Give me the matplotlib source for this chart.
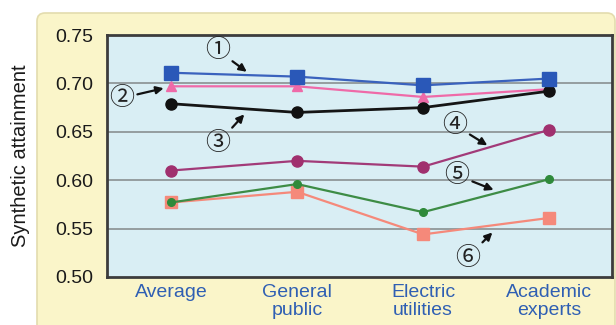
import numpy as np
import matplotlib
matplotlib.use("Agg")
import matplotlib.pyplot as plt
from matplotlib.patches import FancyBboxPatch

plt.rcParams['font.family'] = ['Liberation Sans', 'DejaVu Sans', 'Noto Sans CJK JP']

categories = ['Average', 'General\npublic', 'Electric\nutilities', 'Academic\nexperts']
s1 = [0.711, 0.707, 0.698, 0.705]   # blue squares
s2 = [0.697, 0.697, 0.686, 0.694]   # pink triangles
s3 = [0.679, 0.670, 0.675, 0.692]   # black circles
s4 = [0.610, 0.620, 0.614, 0.652]   # purple circles
s5 = [0.577, 0.596, 0.567, 0.601]   # green dots
s6 = [0.577, 0.588, 0.544, 0.561]   # salmon squares
yticks = [0.50, 0.55, 0.60, 0.65, 0.70, 0.75]
labels = ['\u2460', '\u2461', '\u2462', '\u2463', '\u2464', '\u2465']

fig = plt.figure(figsize=(6.16, 3.25), dpi=100)
fig.patch.set_facecolor('white')

# yellow rounded panel behind the chart
panel = FancyBboxPatch((0.40, -0.2), 5.72, 3.29,
                       boxstyle='round,pad=0.03,rounding_size=0.08',
                       transform=fig.dpi_scale_trans,
                       facecolor='#faf5c9', edgecolor='#e3dcae', linewidth=1.2,
                       zorder=-10)
fig.patches.append(panel)

ax = fig.add_axes([0.1737, 0.1477, 0.8198, 0.7446])
ax.set_facecolor('#d9eef4')
x = np.arange(len(categories))

ax.plot(x, s1, color='#3a62bd', lw=1.6, marker='s', ms=10, mfc='#2a58b8', mec='#2a58b8', zorder=5)
ax.plot(x, s2, color='#ef6aa8', lw=1.6, marker='^', ms=7.5, mfc='#ef6aa8', mec='#ef6aa8', zorder=4)
ax.plot(x, s3, color='#151515', lw=2.0, marker='o', ms=8, mfc='#111111', mec='#111111', zorder=4)
ax.plot(x, s4, color='#a23a78', lw=1.6, marker='o', ms=8, mfc='#a0306e', mec='#a0306e', zorder=4)
ax.plot(x, s5, color='#3d8c45', lw=1.6, marker='o', ms=5.5, mfc='#2f8a3a', mec='#2f8a3a', zorder=4)
ax.plot(x, s6, color='#f5897a', lw=1.6, marker='s', ms=8, mfc='#f5897a', mec='#f5897a', zorder=3)

ax.set_xlim(-0.51, 3.5)
ax.set_ylim(0.50, 0.75)
ax.set_yticks(yticks)
ax.set_yticklabels(['%.2f' % v for v in yticks], fontsize=14, color='#1a1a1a')
ax.set_xticks(x)
ax.set_xticklabels(categories, fontsize=14, color='#2f5fb3', linespacing=1.1)
ax.tick_params(axis='y', length=0, pad=10)
ax.tick_params(axis='x', length=0, pad=5)
ax.set_ylabel('Synthetic attainment', fontsize=14.5, color='#1a1a1a', labelpad=18)

for v in yticks[1:-1]:
    ax.axhline(v, color='#8f9799', lw=1.3, zorder=1)
for sp in ax.spines.values():
    sp.set_color('#3c3c3c')
    sp.set_linewidth(2)

# circled number callouts with arrows
callouts = [
    (0, (0.365, 0.7345), (0.60, 0.712)),
    (1, (-0.39, 0.685), (-0.06, 0.695)),
    (2, (0.37, 0.638), (0.58, 0.668)),
    (3, (2.25, 0.657), (2.51, 0.636)),
    (4, (2.27, 0.605), (2.56, 0.590)),
    (5, (2.35, 0.520), (2.55, 0.546)),
]
for i, txt_xy, head_xy in callouts:
    ax.annotate(labels[i], xy=head_xy, xytext=txt_xy, fontsize=18,
                ha='center', va='center', color='#222222',
                family=['Noto Sans CJK JP', 'DejaVu Sans'],
                arrowprops=dict(arrowstyle='-|>', color='#111111', lw=1.6,
                                shrinkA=0, shrinkB=0, mutation_scale=11),
                zorder=6)

fig.savefig('out.png', dpi=100)
